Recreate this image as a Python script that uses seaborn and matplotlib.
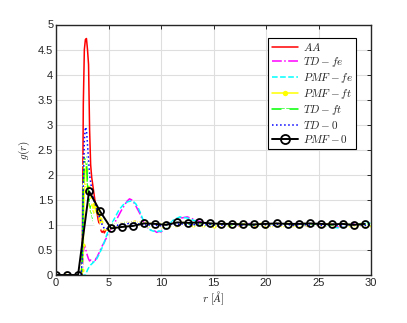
import numpy as np
import pandas as pd
import matplotlib
matplotlib.use("Agg")
import matplotlib.pyplot as plt
from matplotlib.ticker import FuncFormatter
import seaborn as sns

# r grid (A): flat zeros, peak region, second shell, tail
r = np.round(np.concatenate([
    np.arange(0.0, 2.35, 0.1),
    np.arange(2.4, 5.05, 0.1),
    np.arange(5.2, 12.05, 0.2),
    np.arange(12.5, 30.05, 0.5),
]), 2)
n_zero = 24

aa = [0.00, 0.30, 3.40, 4.50, 4.70, 4.72, 4.50, 4.20, 2.90, 2.20, 1.95, 1.80, 1.65, 1.50,
      1.38, 1.25, 1.12, 1.02, 0.94, 0.88, 0.85, 0.89, 0.84, 0.88, 0.92, 0.90, 0.95,
      0.97, 0.99, 1.01, 0.98, 1.00, 1.03, 0.99, 1.02, 1.05, 1.03, 1.06, 1.04, 1.07, 1.03,
      1.05, 1.02, 1.04, 1.00, 1.03, 0.99, 1.01, 0.98, 1.00, 0.97, 0.99, 0.96, 0.98, 1.00,
      0.97, 1.01, 0.99, 1.02, 1.00, 1.03, 1.01,
      1.02, 1.00, 1.03, 0.99, 1.01, 1.00, 0.98, 1.01, 1.00, 1.02, 0.99, 1.01, 1.00, 0.98,
      1.01, 1.00, 1.02, 0.99, 1.00, 1.01, 0.99, 1.02, 1.00, 0.98, 1.01, 1.00, 0.99, 1.02,
      1.00, 1.01, 0.99, 1.00, 1.02, 0.99, 1.01, 1.00]

td_fe = [0.00, 0.05, 0.45, 0.60, 0.55, 0.45, 0.38, 0.32, 0.28, 0.30, 0.26, 0.25, 0.28, 0.27,
         0.33, 0.35, 0.40, 0.44, 0.50, 0.53, 0.58, 0.62, 0.65, 0.70, 0.74, 0.80, 0.83,
         0.92, 0.98, 1.05, 1.12, 1.20, 1.28, 1.35, 1.42, 1.48, 1.52, 1.50, 1.45, 1.38, 1.30,
         1.22, 1.12, 1.05, 0.98, 0.93, 0.90, 0.87, 0.88, 0.85, 0.87, 0.86, 0.89, 0.92, 0.97,
         1.00, 1.05, 1.08, 1.10, 1.13, 1.15, 1.14,
         1.16, 1.12, 1.08, 1.05, 1.02, 0.99, 1.01, 0.98, 1.02, 1.00, 0.97, 1.01, 1.03, 0.99,
         1.00, 0.98, 1.02, 1.00, 0.99, 1.01, 0.98, 1.03, 1.00, 0.99, 1.02, 0.98, 1.00, 0.97,
         0.98, 0.96, 0.97, 1.00, 1.02, 0.99, 1.01, 1.00]

pmf_fe = [0.00, 0.00, 0.00, 0.00, 0.00, 0.05, 0.10, 0.14, 0.17, 0.20, 0.22, 0.24, 0.26, 0.28,
          0.30, 0.33, 0.37, 0.41, 0.46, 0.50, 0.55, 0.60, 0.66, 0.72, 0.78, 0.84, 0.90,
          0.98, 1.06, 1.14, 1.22, 1.30, 1.35, 1.40, 1.43, 1.46, 1.47, 1.48, 1.46, 1.42, 1.35,
          1.26, 1.15, 1.05, 0.97, 0.92, 0.90, 0.88, 0.87, 0.86, 0.88, 0.87, 0.90, 0.93, 0.97,
          1.02, 1.06, 1.10, 1.12, 1.14, 1.16, 1.15,
          1.14, 1.10, 1.06, 1.03, 1.00, 1.02, 0.99, 1.01, 0.98, 1.02, 1.00, 0.99, 1.02, 1.00,
          0.98, 1.01, 0.99, 1.02, 1.00, 0.98, 1.01, 0.99, 1.02, 1.00, 0.98, 1.01, 0.99, 0.97,
          0.95, 0.94, 0.96, 0.99, 1.01, 1.00, 1.03, 1.04]

pmf_ft = [0.00, 0.10, 0.60, 1.80, 2.30, 2.10, 1.75, 1.55, 1.40, 1.30, 1.25, 1.35, 1.42, 1.38,
          1.32, 1.28, 1.30, 1.22, 1.12, 1.05, 1.00, 0.96, 0.93, 0.95, 0.93, 0.97, 0.96,
          0.98, 1.00, 0.97, 1.01, 0.99, 1.02, 1.00, 1.03, 1.01, 1.04, 1.02, 1.05, 1.03, 1.01,
          1.04, 1.02, 1.00, 1.03, 0.99, 1.01, 0.98, 1.00, 1.02, 0.99, 1.01, 0.98, 1.00, 1.02,
          0.99, 1.01, 1.03, 1.00, 1.02, 1.01, 1.03,
          1.01, 0.99, 1.02, 1.00, 1.01, 0.98, 1.00, 1.02, 0.99, 1.01, 1.00, 1.02, 0.99, 1.00,
          1.01, 0.98, 1.00, 1.02, 0.99, 1.01, 1.00, 0.98, 1.01, 1.00, 1.02, 0.99, 1.00, 1.01,
          0.99, 1.00, 1.02, 1.00, 0.99, 1.01, 1.00, 1.00]

td_ft = [0.00, 0.20, 1.80, 2.20, 2.40, 2.30, 1.85, 1.60, 1.45, 1.32, 1.22, 1.12, 1.06, 1.02,
         0.98, 0.96, 0.98, 0.95, 0.97, 0.99, 0.96, 0.98, 1.00, 0.97, 1.00, 1.02, 0.99,
         1.00, 1.02, 0.99, 1.01, 1.03, 1.00, 1.02, 1.04, 1.01, 1.03, 1.05, 1.02, 1.04, 1.01,
         1.03, 1.00, 1.02, 0.99, 1.01, 1.00, 0.98, 1.00, 1.01, 0.99, 1.02, 1.00, 0.98, 1.01,
         1.00, 1.02, 0.99, 1.01, 1.03, 1.00, 1.02,
         1.00, 1.02, 0.99, 1.01, 1.00, 1.02, 0.99, 1.00, 1.01, 0.99, 1.02, 1.00, 0.98, 1.01,
         1.00, 1.02, 0.99, 1.01, 1.00, 0.99, 1.02, 1.00, 1.01, 0.99, 1.00, 1.02, 1.00, 0.98,
         1.01, 1.00, 0.99, 1.01, 1.00, 1.02, 0.99, 1.01]

td_0 = [0.00, 0.30, 1.80, 2.70, 2.95, 2.90, 2.60, 2.30, 2.00, 1.85, 1.72, 1.60, 1.50, 1.44,
        1.36, 1.30, 1.24, 1.18, 1.12, 1.06, 1.00, 0.96, 0.93, 0.92, 0.91, 0.94, 0.95,
        0.96, 0.98, 0.97, 1.00, 0.98, 1.01, 1.03, 1.00, 1.02, 1.04, 1.02, 1.05, 1.03, 1.01,
        1.03, 1.00, 1.02, 0.99, 1.01, 0.98, 1.00, 1.01, 0.99, 1.00, 0.98, 1.01, 1.00, 1.02,
        0.99, 1.01, 1.03, 1.01, 1.02, 1.00, 1.02,
        1.01, 1.00, 1.02, 0.99, 1.01, 1.00, 0.98, 1.01, 1.00, 1.02, 0.99, 1.00, 1.01, 0.99,
        1.02, 1.00, 0.98, 1.01, 1.00, 1.01, 0.99, 1.00, 1.02, 0.99, 1.01, 1.00, 0.98, 1.00,
        1.01, 0.99, 1.01, 1.00, 1.02, 1.00, 0.99, 1.01]

# PMF-0 is sampled on a coarser grid
r_pmf0 = np.round(np.arange(0, 29) * 1.05, 2)
pmf_0 = [0.00, 0.00, 0.00, 1.67, 1.27, 0.93, 0.96, 0.98, 1.03, 1.02, 1.00, 1.05, 1.04, 1.05,
         1.03, 1.02, 1.02, 1.01, 1.01, 1.02, 1.03, 1.02, 1.02, 1.03, 1.02, 1.01, 1.02, 1.00, 1.02]

sns.set_theme(style="whitegrid")
plt.rcParams["font.family"] = ["Liberation Sans", "DejaVu Sans"]
plt.rcParams["mathtext.fontset"] = "cm"

fig = plt.figure(figsize=(4.07, 3.23), dpi=100)
ax = fig.add_axes([56 / 407, 1 - 275 / 323, 315 / 407, 250.5 / 323])

series = [
    ("$AA$", aa, dict(color="#ff0000", linestyle="-")),
    ("$TD-fe$", td_fe, dict(color="#ff00ff", linestyle="-.")),
    ("$PMF-fe$", pmf_fe, dict(color="#00ffff", linestyle="--")),
    ("$PMF-ft$", pmf_ft, dict(color="#ffff00", linestyle="-", marker="o", markersize=3,
                              markeredgewidth=0)),
    ("$TD-ft$", td_ft, dict(color="#00ff00", linestyle="-", marker="+", markersize=4,
                            markeredgewidth=1)),
    ("$TD-0$", td_0, dict(color="#0000ff", linestyle=":")),
]
for label, vals, kw in series:
    y = np.concatenate([np.zeros(n_zero), vals])
    sns.lineplot(x=r, y=y, ax=ax, label=label, lw=1.1, estimator=None, errorbar=None, **kw)

sns.lineplot(x=r_pmf0, y=pmf_0, ax=ax, label="$PMF-0$", color="black", lw=1.4,
             marker="o", markersize=5, markerfacecolor="none", markeredgecolor="black",
             markeredgewidth=1.3, estimator=None, errorbar=None)

ax.set_xlim(0, 30)
ax.set_ylim(0, 5)
ax.set_xticks(range(0, 31, 5))
ax.set_yticks(np.arange(0, 5.01, 0.5))
ax.yaxis.set_major_formatter(FuncFormatter(lambda v, p: "%g" % v))
ax.tick_params(direction="in", length=3, width=0.7, labelsize=8, colors="#262626",
               top=True, right=True, pad=2)
ax.grid(True, color="#dedede", lw=0.8)
for s in ax.spines.values():
    s.set_color("#262626")
    s.set_linewidth(1.0)
ax.set_facecolor("white")
ax.set_xlabel(r"$r\ [\AA]$", fontsize=8, labelpad=1, color="#262626")
ax.set_ylabel(r"$g(r)$", fontsize=8, labelpad=4, color="#262626")

leg = ax.legend(loc="upper right", bbox_to_anchor=(0.952, 0.946), borderaxespad=0,
                fontsize=8, frameon=True, fancybox=False, edgecolor="black",
                framealpha=1, handlelength=2.4, labelspacing=0.18, borderpad=0.3,
                handletextpad=0.4, markerscale=1.3)
leg.get_frame().set_linewidth(0.8)

fig.savefig("out.png", dpi=100)
